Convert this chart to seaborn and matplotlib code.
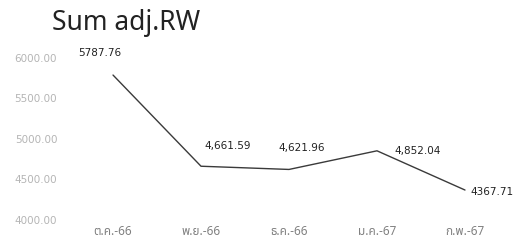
import numpy as np
import pandas as pd
import matplotlib
matplotlib.use("Agg")
import matplotlib.pyplot as plt
import seaborn as sns

months = ["ต.ค.-66", "พ.ย.-66", "ธ.ค.-66", "ม.ค.-67", "ก.พ.-67"]
sum_adj_rw = [5787.76, 4661.59, 4621.96, 4852.04, 4367.71]
value_labels = ["5787.76", "4,661.59", "4,621.96", "4,852.04", "4367.71"]
y_ticks = [4000, 4500, 5000, 5500, 6000]

# where each data label sits relative to its point (pixels)
label_offsets = [(-13, 22), (27, 20), (13, 21), (41, 0), (27, -2)]

sns.set_theme(style="white")
plt.rcParams["font.family"] = ["Noto Sans", "Noto Sans Thai", "DejaVu Sans"]

df = pd.DataFrame({"month": months, "value": sum_adj_rw})

fig = plt.figure(figsize=(5.17, 2.48), dpi=100)
ax = fig.add_axes([0.1335, 0.1137, 0.851, 0.653])

sns.lineplot(data=df, x="month", y="value", sort=False, color="#3a3a3a",
             linewidth=1.0, ax=ax)

for i, (lab, off) in enumerate(zip(value_labels, label_offsets)):
    ax.annotate(lab, (i, sum_adj_rw[i]), xytext=off, textcoords="offset pixels",
                ha="center", va="center", fontsize=7.5, color="#222222",
                family="DejaVu Sans")

ax.set_xlim(-0.5, len(months) - 0.5)
ax.set_ylim(4000, 6000)
ax.set_yticks(y_ticks)
ax.set_yticklabels(["{:.2f}".format(v) for v in y_ticks], family="DejaVu Sans")
ax.tick_params(axis="y", length=0, pad=8.5, labelsize=7.5, labelcolor="#b5b5b5")
ax.tick_params(axis="x", length=0, pad=3.5, labelsize=8.5, labelcolor="#808080")
ax.set_xlabel("")
ax.set_ylabel("")
sns.despine(ax=ax, left=True, bottom=True)

fig.text(0.1, 0.965, "Sum adj.RW", fontsize=19, color="#222222", va="top", ha="left")

fig.savefig("out.png", dpi=100)
